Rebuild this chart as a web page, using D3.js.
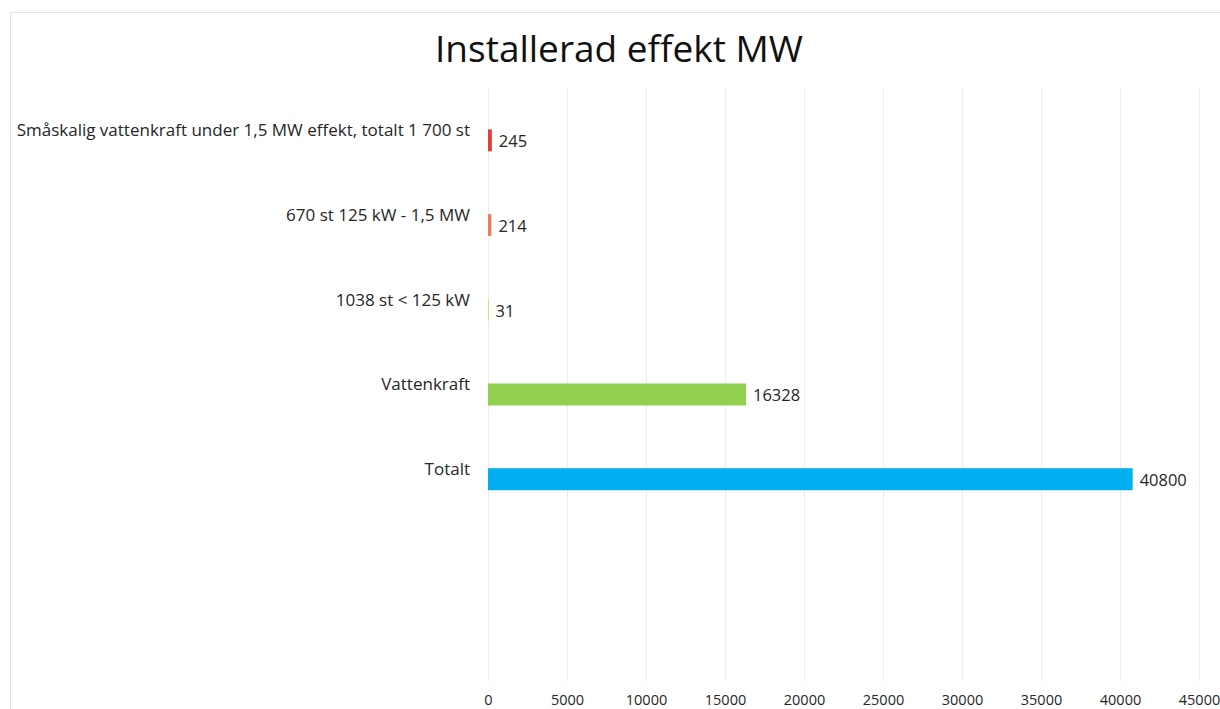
<!DOCTYPE html>
<html>
<head>
<meta charset="utf-8">
<script src="https://cdn.jsdelivr.net/npm/d3@7"></script>
<style>
  body { margin: 0; background: #fff; }
  text { font-family: "Open Sans", sans-serif; fill: #262626; }
</style>
</head>
<body>
<div id="chart"></div>
<script>
// data
const categories = ["Småskalig vattenkraft under 1,5 MW effekt, totalt 1 700 st",
                    "670 st 125 kW - 1,5 MW",
                    "1038 st < 125 kW",
                    "Vattenkraft",
                    "Totalt",
                    " ", "  "];   // two empty rows at the bottom
const values = [245, 214, 31, 16328, 40800];
const barColors = ["#e0403a", "#ed7d58", "#ffc000", "#92d050", "#00b0f0"];
const ticks = [0, 5000, 10000, 15000, 20000, 25000, 30000, 35000, 40000, 45000];

const W = 1220, H = 709;
const plotL = 488, plotR = 1199, plotT = 88, plotB = 681;

const svg = d3.select("#chart").append("svg")
  .attr("width", W)
  .attr("height", H);

// frame
svg.append("rect")
  .attr("x", 10.5).attr("y", 12.5)
  .attr("width", W).attr("height", H)
  .attr("fill", "none")
  .attr("stroke", "#e3e3e3");

// title
svg.append("text")
  .attr("x", 619).attr("y", 62)
  .attr("text-anchor", "middle")
  .style("font-size", "37px")
  .style("fill", "#111")
  .text("Installerad effekt MW");

var x = d3.scaleLinear()
  .domain([0, 45000])
  .range([plotL, plotR]);

var y = d3.scaleBand()
  .domain(categories)
  .range([plotT, plotB]);

// gridlines
svg.append("g")
  .selectAll("line")
  .data(ticks)
  .enter()
  .append("line")
    .attr("x1", function(d) { return Math.round(x(d)) + 0.5; })
    .attr("x2", function(d) { return Math.round(x(d)) + 0.5; })
    .attr("y1", plotT)
    .attr("y2", plotB)
    .attr("stroke", "#ececec");

// x axis labels
var xAxis = svg.append("g")
  .attr("transform", "translate(0," + (plotB + 4) + ")")
  .call(d3.axisBottom(x).tickValues(ticks).tickFormat(d3.format("d")).tickSize(0).tickPadding(10));
xAxis.select(".domain").remove();
xAxis.selectAll("text")
  .style("font-size", "14.5px")
  .style("font-family", "'Open Sans', sans-serif")
  .attr("fill", "#333");

// category labels (sit at the middle of each row, bars hang a bit lower)
svg.append("g")
  .selectAll("text")
  .data(categories.slice(0, values.length))
  .enter()
  .append("text")
    .attr("x", 470)
    .attr("y", function(d) { return y(d) + y.bandwidth() / 2; })
    .attr("dy", "0.35em")
    .attr("text-anchor", "end")
    .style("font-size", "17px")
    .text(function(d) { return d; });

const barH = 22, barShift = -1;

// bars
svg.append("g")
  .selectAll("rect")
  .data(values)
  .enter()
  .append("rect")
    .attr("x", x(0))
    .attr("y", function(d, i) { return y(categories[i]) + y.bandwidth() / 2 + barShift; })
    .attr("width", function(d) { return Math.max(x(d) - x(0), 0.5); })
    .attr("height", barH)
    .attr("fill", function(d, i) { return barColors[i]; });

// value labels
svg.append("g")
  .selectAll("text")
  .data(values)
  .enter()
  .append("text")
    .attr("x", function(d) { return x(d) + 7; })
    .attr("y", function(d, i) { return y(categories[i]) + y.bandwidth() / 2 + barShift + barH / 2 + 1; })
    .attr("dy", "0.35em")
    .style("font-size", "16.5px")
    .text(function(d) { return d; });
</script>
</body>
</html>
